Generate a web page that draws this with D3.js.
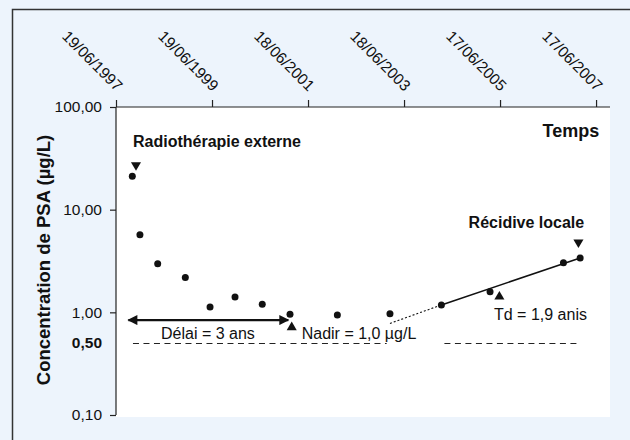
<!DOCTYPE html>
<html>
<head>
<meta charset="utf-8">
<script src="https://cdn.jsdelivr.net/npm/d3@7"></script>
<style>
  html, body { margin: 0; padding: 0; background: #EDF4FC; }
  svg { display: block; }
  text { font-family: "Liberation Sans", Arial, Helvetica, sans-serif; fill: #111; }
</style>
</head>
<body>
<svg id="chart" width="630" height="440"></svg>
<script>
// ---- data ----
const dates  = ["1997-10-21","1997-12-18","1998-05-02","1998-11-28","1999-06-04","1999-12-11","2000-07-05",
                "2001-02-01","2002-01-27","2003-03-03","2004-03-28","2005-04-02","2006-10-12","2007-02-16"];
const psa    = [21.1, 5.7, 2.97, 2.19, 1.13, 1.41, 1.20, 0.96, 0.94, 0.97, 1.18, 1.59, 3.04, 3.38];
const xTickDates  = ["1997-06-19","1999-06-19","2001-06-18","2003-06-18","2005-06-17","2007-06-17"];
const xTickLabels = ["19/06/1997","19/06/1999","18/06/2001","18/06/2003","17/06/2005","17/06/2007"];
const yTickValues = [0.1, 1, 10, 100];
const yTickLabels = ["0,10","1,00","10,00","100,00"];
const threshold = 0.5;
const thresholdLabel = "0,50";
const thresholdSegments = [["1997-10-26","2003-02-06"],["2004-04-20","2007-02-11"]];
const trendLine  = [["2004-03-28", 1.18], ["2007-02-16", 3.38]];
const dottedLine = [["2003-03-03", 0.78], ["2004-03-28", 1.18]];
const delayArrow = [["1997-09-21", 0.84], ["2001-01-19", 0.84]];
const triDown = [["1997-11-18", 27.2], ["2007-02-03", 4.81]];
const triUp   = [["2001-02-14", 0.715], ["2005-06-12", 1.42]];
const labels = [
  {text: "Radiothérapie externe", date: "1997-10-26", value: 41,   anchor: "start", bold: true,  size: 16},
  {text: "Temps",                 date: "2007-07-11", value: 51.3, anchor: "end",   bold: true,  size: 18},
  {text: "Récidive locale",       date: "2007-03-19", value: 6.58, anchor: "end",   bold: true,  size: 16},
  {text: "Td = 1,9 anis",         date: "2005-05-02", value: 0.84, anchor: "start", bold: false, size: 16},
  {text: "Nadir = 1,0 µg/L",      date: "2001-05-01", value: 0.55, anchor: "start", bold: false, size: 16},
  {text: "Délai = 3 ans",         date: "1998-05-27", value: 0.55, anchor: "start", bold: false, size: 16}
];
const yTitle = "Concentration de PSA (µg/L)";

// ---- drawing ----
const parse = d3.timeParse("%Y-%m-%d");
const svg = d3.select("#chart");
const W = 630, H = 440;
const plot = {left: 116, right: 610, top: 107, bottom: 415};

svg.append("rect").attr("width", W).attr("height", H).attr("fill", "#EDF4FC");
svg.append("rect").attr("x", 12.5).attr("y", 9.5).attr("width", W).attr("height", H)
   .attr("fill", "none").attr("stroke", "#333").attr("stroke-width", 1.5);

svg.append("rect").attr("x", plot.left).attr("y", plot.top)
   .attr("width", plot.right - plot.left).attr("height", 417 - plot.top).attr("fill", "#fff");

const x = d3.scaleTime().domain([parse("1997-06-19"), parse("2007-10-01")]).range([plot.left, plot.right]);
const y = d3.scaleLog().domain([0.1, 100]).range([plot.bottom, plot.top]);

// top axis
const xAxis = d3.axisTop(x).tickValues(xTickDates.map(parse)).tickSize(7).tickSizeOuter(0).tickFormat("");
const gx = svg.append("g").attr("transform", `translate(0,${plot.top})`).call(xAxis);
gx.selectAll("path, line").attr("stroke", "#222").attr("stroke-width", 1.2);
svg.append("g").selectAll("text").data(xTickDates).join("text")
   .attr("transform", d => `translate(${x(parse(d))},${plot.top - 15}) rotate(45)`)
   .attr("text-anchor", "end").style("font-size", "15.5px")
   .text((d, i) => xTickLabels[i]);

// left axis
const yAxis = d3.axisLeft(y).tickValues(yTickValues).tickSize(6).tickSizeOuter(0).tickPadding(8)
   .tickFormat((d, i) => yTickLabels[i]);
const gy = svg.append("g").attr("transform", `translate(${plot.left},0)`).call(yAxis);
gy.selectAll("path, line").attr("stroke", "#222").attr("stroke-width", 1.2);
gy.selectAll("text").style("font-size", "15.5px").attr("fill", "#111")
   .style("font-family", '"Liberation Sans", Arial, sans-serif');
gy.select(".domain").attr("d", `M0,${plot.top}V${plot.bottom}`);
gx.select(".domain").attr("d", `M${plot.left},0H${plot.right}`);

svg.append("text").attr("x", plot.left - 14).attr("y", y(threshold)).attr("dy", "0.32em")
   .attr("text-anchor", "end").style("font-size", "15.5px").style("font-weight", "bold").text(thresholdLabel);

// y title
svg.append("text").attr("transform", `translate(50,260) rotate(-90)`).attr("text-anchor", "middle")
   .style("font-size", "18.5px").style("font-weight", "bold").text(yTitle);

// threshold dashed lines
svg.append("g").selectAll("line").data(thresholdSegments).join("line")
   .attr("x1", d => x(parse(d[0]))).attr("x2", d => x(parse(d[1])))
   .attr("y1", Math.round(y(threshold)) + 0.5).attr("y2", Math.round(y(threshold)) + 0.5)
   .attr("stroke", "#222").attr("stroke-width", 1.1).attr("stroke-dasharray", "6,4.5");

// trend lines
const line = d3.line().x(d => x(parse(d[0]))).y(d => y(d[1]));
svg.append("path").attr("d", line(dottedLine)).attr("fill", "none").attr("stroke", "#111")
   .attr("stroke-width", 1.1).attr("stroke-dasharray", "2,2");
svg.append("path").attr("d", line(trendLine)).attr("fill", "none").attr("stroke", "#111").attr("stroke-width", 1.6);

// delay arrow
const defs = svg.append("defs");
defs.append("marker").attr("id", "arrowEnd").attr("viewBox", "0 0 10 10").attr("refX", 9).attr("refY", 5)
  .attr("markerWidth", 12).attr("markerHeight", 10).attr("markerUnits", "userSpaceOnUse").attr("orient", "auto")
  .append("path").attr("d", "M0,0L10,5L0,10Z").attr("fill", "#111");
defs.append("marker").attr("id", "arrowStart").attr("viewBox", "0 0 10 10").attr("refX", 1).attr("refY", 5)
  .attr("markerWidth", 12).attr("markerHeight", 10).attr("markerUnits", "userSpaceOnUse").attr("orient", "auto")
  .append("path").attr("d", "M10,0L0,5L10,10Z").attr("fill", "#111");
svg.append("path").attr("d", line(delayArrow)).attr("stroke", "#111").attr("stroke-width", 2.2)
   .attr("marker-end", "url(#arrowEnd)").attr("marker-start", "url(#arrowStart)");

// triangles
const tri = d3.symbol().type(d3.symbolTriangle).size(44);
svg.append("g").selectAll("path").data(triDown).join("path")
   .attr("transform", d => `translate(${x(parse(d[0]))},${y(d[1])}) rotate(180)`).attr("d", tri).attr("fill", "#111");
svg.append("g").selectAll("path").data(triUp).join("path")
   .attr("transform", d => `translate(${x(parse(d[0]))},${y(d[1])})`).attr("d", tri).attr("fill", "#111");

// points
svg.append("g").selectAll("circle").data(dates).join("circle")
   .attr("cx", d => x(parse(d))).attr("cy", (d, i) => y(psa[i])).attr("r", 3.5).attr("fill", "#111");

// labels
svg.append("g").selectAll("text").data(labels).join("text")
   .attr("x", d => x(parse(d.date))).attr("y", d => y(d.value))
   .attr("text-anchor", d => d.anchor)
   .style("font-size", d => d.size + "px").style("font-weight", d => d.bold ? "bold" : "normal")
   .text(d => d.text);
</script>
</body>
</html>
